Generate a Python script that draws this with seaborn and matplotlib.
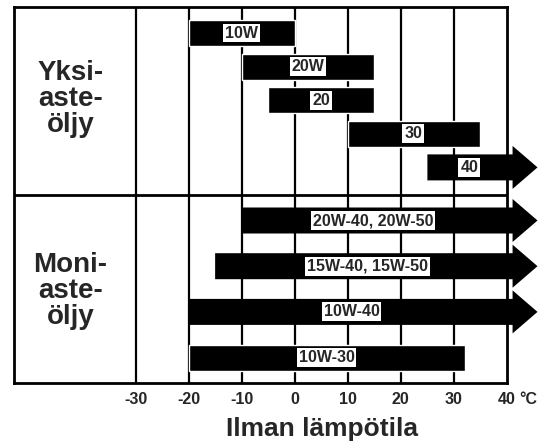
import numpy as np
import pandas as pd
import matplotlib
matplotlib.use("Agg")
import matplotlib.pyplot as plt
import seaborn as sns
from matplotlib.patches import FancyArrow

# oil grades and their temperature ranges (deg C)
oils = ["10W", "20W", "20", "30", "40",
        "20W-40, 20W-50", "15W-40, 15W-50", "10W-40", "10W-30"]
groups = ["Yksi-\naste-\nöljy"] * 5 + ["Moni-\naste-\nöljy"] * 4
t_min = [-20, -10, -5, 10, 25, -10, -15, -20, -20]
t_max = [0, 15, 15, 35, 40, 40, 40, 40, 32]
open_end = [False, False, False, False, True, True, True, True, False]
label_at = [-10, 2.5, 5, 22.3, 32.9, 14.8, 13.7, 10.7, 6]

ticks = [-30, -20, -10, 0, 10, 20, 30, 40]
tick_labels = ["-30", "-20", "-10", "0", "10", "20", "30", "40"]

df = pd.DataFrame({"oil": oils, "group": groups, "lo": t_min, "hi": t_max,
                   "arrow": open_end, "lab": label_at})

sns.set_style("white")
plt.rcParams["font.family"] = ["Liberation Sans", "DejaVu Sans"]
plt.rcParams["font.weight"] = "bold"

fig = plt.figure(figsize=(5.51, 4.41), dpi=100)
ax = fig.add_axes([14 / 551, 58 / 441, 493 / 551, 376 / 441])

# vertical row positions (pixels from top of the frame)
n_up = (df["group"] == groups[0]).sum()
ypos = []
for i in range(len(df)):
    if i < n_up:
        ypos.append(26 + 33.6 * i)
    else:
        ypos.append(213.5 + 45.7 * (i - n_up))
df["y"] = ypos

ax.set_xlim(-52.9, 40)
ax.set_ylim(376, 0)

for t in ticks[:-1]:
    ax.axvline(t, color="black", lw=1.6, zorder=1)
ax.axhline(188, color="black", lw=2, zorder=1)

bar_h = 26
for _, r in df.iterrows():
    if r["arrow"]:
        arr = FancyArrow(r["lo"], r["y"], 45.75 - r["lo"], 0, width=bar_h,
                         head_width=43, head_length=4.7,
                         length_includes_head=True, color="black",
                         clip_on=False, zorder=3, lw=0)
        ax.add_patch(arr)
    else:
        ax.barh(r["y"], r["hi"] - r["lo"], left=r["lo"], height=bar_h,
                color="black", zorder=3)
    ax.text(r["lab"], r["y"], r["oil"], ha="center", va="center",
            fontsize=11.5, fontweight="bold", zorder=4,
            bbox=dict(boxstyle="square,pad=0.12", fc="white", ec="none"))

# group labels
for g, yc in zip(df["group"].unique(), [92, 284]):
    ax.text(-42.3, yc, g, ha="center", va="center", fontsize=20,
            fontweight="bold", linespacing=0.98)

ax.set_xticks(ticks)
ax.set_xticklabels(tick_labels, fontsize=11.5, fontweight="bold")
ax.tick_params(axis="x", length=0, pad=6.5)
ax.set_yticks([])
ax.annotate("°C", xy=(40, 0), xycoords=("data", "axes fraction"),
            xytext=(9, -6.5), textcoords="offset points", ha="left",
            va="top", fontsize=11.5, fontweight="bold",
            annotation_clip=False)

for s in ax.spines.values():
    s.set_color("black")
    s.set_linewidth(2)
    s.set_zorder(5)

fig.text(322 / 551, 1 - 429 / 441, "Ilman lämpötila", ha="center",
         va="center", fontsize=19, fontweight="bold")

fig.savefig("out.png", dpi=100)
